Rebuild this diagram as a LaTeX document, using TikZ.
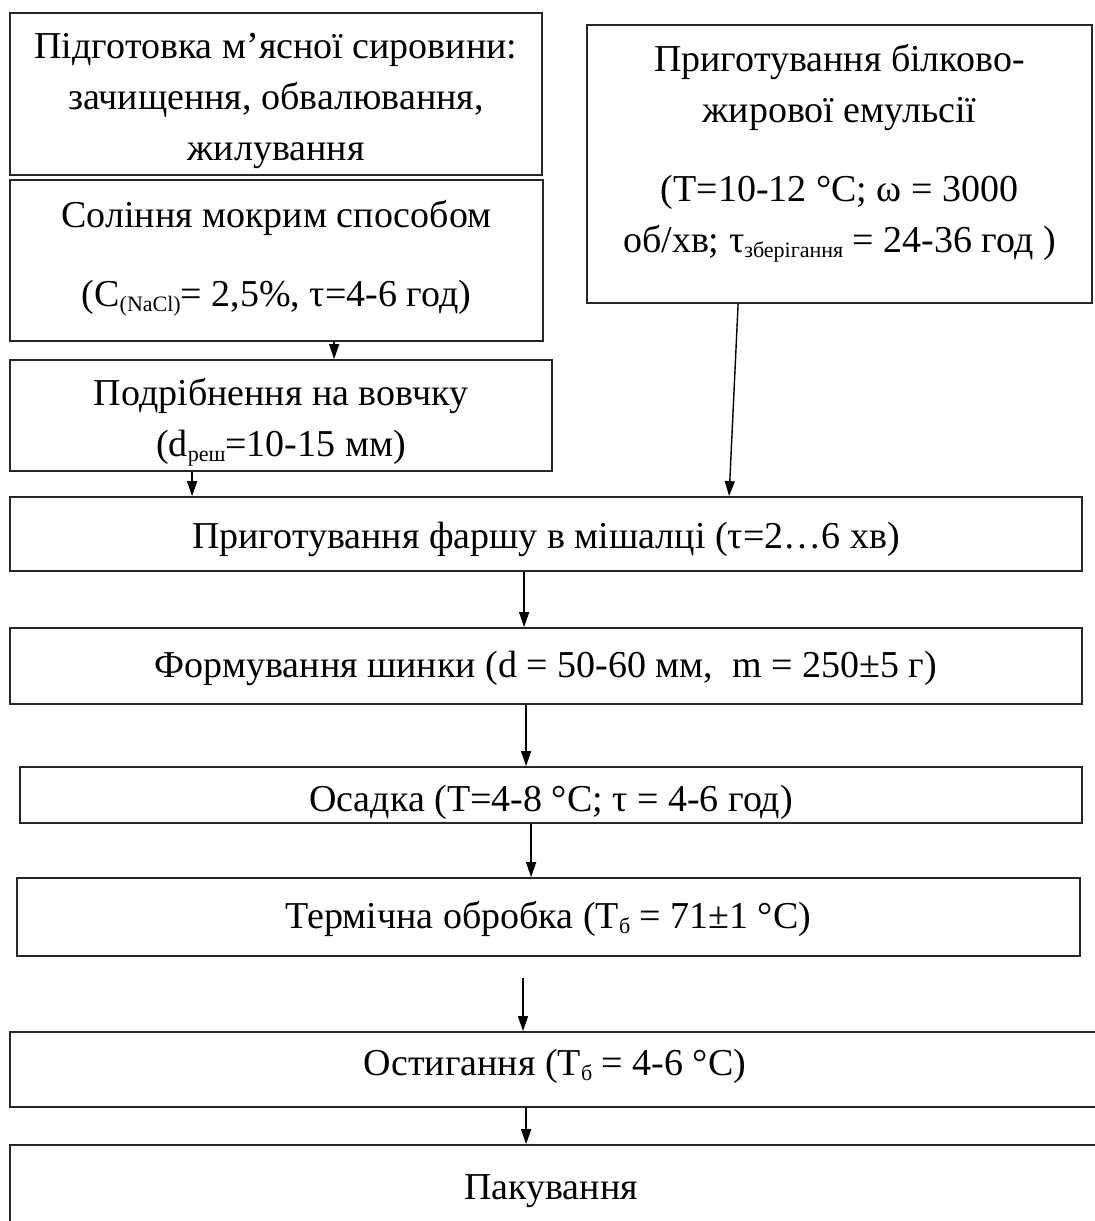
\documentclass[tikz,border=0pt]{standalone}
\usepackage{fontspec}
\setmainfont{Liberation Serif}
\usetikzlibrary{calc,arrows.meta}
\newcommand{\sbs}[1]{\raisebox{-0.28ex}{\fontsize{22pt}{24pt}\selectfont #1}}
\begin{document}
\begin{tikzpicture}[x=1pt,y=-1pt,
  box/.style={draw=black!85,line width=1.8pt,rectangle,inner sep=0pt},
  txt/.style={inner sep=0pt,align=center,font=\fontsize{38pt}{51pt}\selectfont},
  arr/.style={draw=black,line width=1.4pt,-{Triangle[length=15pt,width=10pt]}}]
\useasboundingbox[fill=white] (0,0) rectangle (1095,1221);
% boxes
\node[box,minimum width=532,minimum height=162] (b1) at (276,94) {};
\node[box,minimum width=533,minimum height=161] (b2) at (276.5,260.5) {};
\node[box,minimum width=542,minimum height=111] (b3) at (281,415.5) {};
\node[box,minimum width=505,minimum height=278] (r) at (839.5,164) {};
\node[box,minimum width=1072,minimum height=74] (b4) at (546,534) {};
\node[box,minimum width=1072,minimum height=76] (b5) at (546,666) {};
\node[box,minimum width=1062,minimum height=56] (b6) at (551,795) {};
\node[box,minimum width=1063,minimum height=78] (b7) at (548.5,917) {};
\node[box,minimum width=1090,minimum height=75] (b8) at (555,1069.5) {};
\node[box,minimum width=1090,minimum height=85] (b9) at (555,1187.5) {};
% texts
\node[txt] (b1t) at (276,101)
  {Підготовка м’ясної сировини:\\ зачищення, обвалювання,\\ жилування};
\node[txt] (b2t) at (276.5,258)
  {Соління мокрим способом\\[28pt] (C\sbs{(NaCl)}= 2,5\%, τ=4-6 год)};
\node[txt] (b3t) at (281,422)
  {Подрібнення на вовчку\\ (d\sbs{реш}=10-15 мм)};
\node[txt] (rt) at (839.5,153)
  {Приготування білково-\\ жирової емульсії\\[28pt] (T=10-12 °C; ω = 3000\\ об/хв; τ\sbs{зберігання} = 24-36 год )};
\node[txt] (b4t) at (546,539) {Приготування фаршу в мішалці (τ=2…6 хв)};
\node[txt] (b5t) at (546,668) {Формування шинки (d = 50-60 мм,\ \ m = 250±5 г)};
\node[txt] (b6t) at (551,802) {Осадка (T=4-8 °C; τ = 4-6 год)};
\node[txt] (b7t) at (548.5,919) {Термічна обробка (T\sbs{б} = 71±1 °C)};
\node[txt] (b8t) at (555,1066.5) {Остигання (T\sbs{б} = 4-6 °C)};
\node[txt] (b9t) at (551,1191) {Пакування};
% arrows
\draw[arr] ($(b2.south west)+(325,0)$) -- ($(b3.north west)+(325,0)$);
\draw[arr] ($(b3.south west)+(183,0)$) -- ($(b4.north west)+(183,0)$);
\draw[arr] ($(r.south west)+(152,0)$) -- ($(b4.north west)+(720,0)$);
\draw[arr] ($(b4.south west)+(515,0)$) -- ($(b5.north west)+(515,0)$);
\draw[arr] ($(b5.south west)+(517,0)$) -- ($(b6.north west)+(507,0)$);
\draw[arr] ($(b6.south west)+(512,0)$) -- ($(b7.north west)+(515,0)$);
\coordinate (f7) at (523,978);
\draw[arr] (f7) -- (b8.north -| f7);
\draw[arr] ($(b8.south west)+(517,0)$) -- ($(b9.north west)+(517,0)$);
\end{tikzpicture}
\end{document}
